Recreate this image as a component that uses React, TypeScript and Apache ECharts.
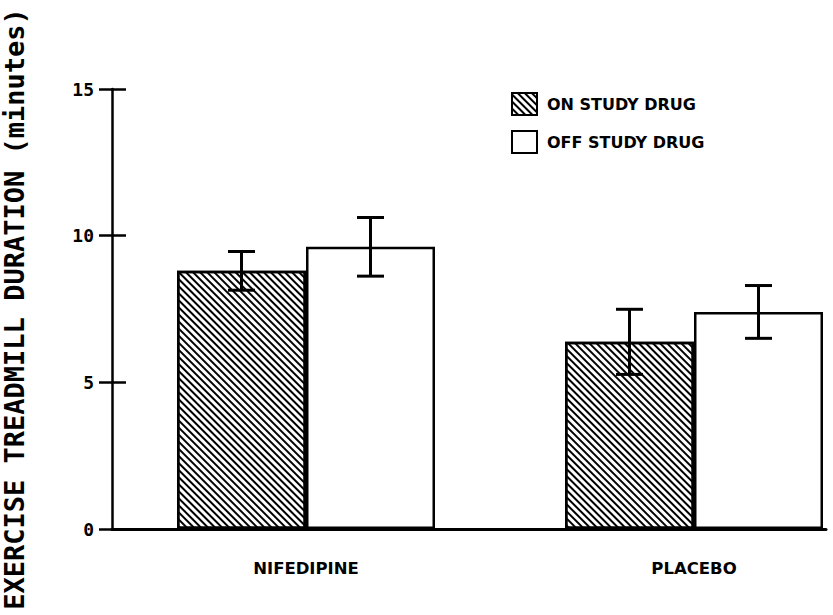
import React, { useEffect, useRef } from "react";
import * as echarts from "echarts";

const categories = ["NIFEDIPINE", "PLACEBO"];
const seriesNames = ["ON STUDY DRUG", "OFF STUDY DRUG"];
const onDrug = [8.8, 6.38];
const offDrug = [9.62, 7.4];
const onDrugErr = [0.66, 1.11];
const offDrugErr = [1.0, 0.9];
const yTicks = { min: 0, max: 15, interval: 5 };
const yTitle = "EXERCISE TREADMILL DURATION (minutes)";

const BAR_W = 129;
const MONO = "'DejaVu Sans Mono', monospace";
const SANS = "'DejaVu Sans', sans-serif";

function errorSeries(name: string, means: number[], errs: number[], offset: number) {
  return {
    name,
    type: "custom",
    xAxisIndex: 0,
    yAxisIndex: 0,
    z: 10,
    encode: { x: 0, y: 1 },
    data: means.map((m, i) => [i, m, errs[i]]),
    renderItem: (params: any, api: any) => {
      const cat = api.value(0);
      const v = api.value(1);
      const e = api.value(2);
      const top = api.coord([cat, v + e]);
      const bot = api.coord([cat, v - e]);
      const x = top[0] + offset;
      const cap = 13.5;
      const st = { stroke: "#000", lineWidth: 3 };
      return {
        type: "group",
        children: [
          { type: "line", shape: { x1: x, y1: top[1], x2: x, y2: bot[1] }, style: st },
          { type: "line", shape: { x1: x - cap, y1: top[1], x2: x + cap, y2: top[1] }, style: st },
          { type: "line", shape: { x1: x - cap, y1: bot[1], x2: x + cap, y2: bot[1] }, style: st },
        ],
      };
    },
  };
}

export default function App() {
  const ref = useRef<HTMLDivElement>(null);
  useEffect(() => {
    if (!ref.current) return;
    const chart = echarts.init(ref.current, null, { renderer: "svg" });
    const hatch = {
      symbol: "rect",
      symbolSize: 1,
      color: "#000",
      backgroundColor: "#fff",
      dashArrayX: [1, 0],
      dashArrayY: [2, 3],
      rotation: Math.PI / 4,
    };
    chart.setOption({
      animation: false,
      backgroundColor: "#fff",
      grid: [
        // bar grid: category ticks sit at the group centres
        { left: 306, right: 139, top: 89, bottom: 86, containLabel: false, outerBoundsMode: "none" },
        // axes grid
        { left: 112, right: 7, top: 89, bottom: 86, containLabel: false, outerBoundsMode: "none" },
      ],
      legend: {
        data: seriesNames,
        orient: "vertical",
        left: 506,
        top: 87,
        itemWidth: 25,
        itemHeight: 22,
        itemGap: 14,
        icon: "rect",
        textStyle: {
          fontFamily: SANS,
          fontWeight: "bold",
          fontSize: 16,
          color: "#000",
          padding: [0, 0, 0, 5],
        },
      },
      xAxis: [
        {
          type: "category",
          gridIndex: 0,
          data: categories,
          boundaryGap: false,
          axisLine: { show: false },
          axisTick: { show: false },
          splitLine: { show: false },
          axisLabel: {
            margin: 31,
            fontFamily: SANS,
            fontWeight: "bold",
            fontSize: 16.5,
            color: "#000",
          },
        },
        {
          type: "value",
          gridIndex: 1,
          min: 0,
          max: 1,
          axisLine: { show: true, lineStyle: { color: "#000", width: 3 } },
          axisTick: { show: false },
          axisLabel: { show: false },
          splitLine: { show: false },
        },
      ],
      yAxis: [
        { type: "value", gridIndex: 0, show: false, ...yTicks, splitLine: { show: false } },
        {
          type: "value",
          gridIndex: 1,
          ...yTicks,
          name: yTitle,
          nameLocation: "middle",
          nameRotate: 90,
          nameGap: 84,
          nameTextStyle: {
            fontFamily: MONO,
            fontWeight: "bold",
            fontSize: 27,
            color: "#000",
          },
          axisLine: { show: true, lineStyle: { color: "#000", width: 2.5 } },
          axisTick: { show: true, length: 13, lineStyle: { color: "#000", width: 2.5 } },
          axisLabel: {
            margin: 18,
            fontFamily: MONO,
            fontWeight: "bold",
            fontSize: 18,
            color: "#000",
          },
          splitLine: { show: false },
        },
        {
          type: "value",
          gridIndex: 1,
          position: "left",
          offset: 0,
          ...yTicks,
          axisLine: { show: false },
          axisTick: { show: true, inside: true, length: 14, lineStyle: { color: "#000", width: 2.5 } },
          axisLabel: { show: false },
          splitLine: { show: false },
        },
      ],
      series: [
        {
          name: seriesNames[0],
          type: "bar",
          xAxisIndex: 0,
          yAxisIndex: 0,
          data: onDrug,
          barWidth: BAR_W,
          barGap: "0%",
          itemStyle: { color: "#fff", borderColor: "#000", borderWidth: 2.5, decal: hatch },
        },
        {
          name: seriesNames[1],
          type: "bar",
          xAxisIndex: 0,
          yAxisIndex: 0,
          data: offDrug,
          barWidth: BAR_W,
          barGap: "0%",
          itemStyle: { color: "#fff", borderColor: "#000", borderWidth: 2.5 },
        },
        errorSeries("errOn", onDrug, onDrugErr, -BAR_W / 2),
        errorSeries("errOff", offDrug, offDrugErr, BAR_W / 2),
      ],
    });
    return () => chart.dispose();
  }, []);
  return (
    <div
      ref={ref}
      style={{ position: "absolute", left: 0, top: 0, width: 833, height: 615 }}
    />
  );
}
